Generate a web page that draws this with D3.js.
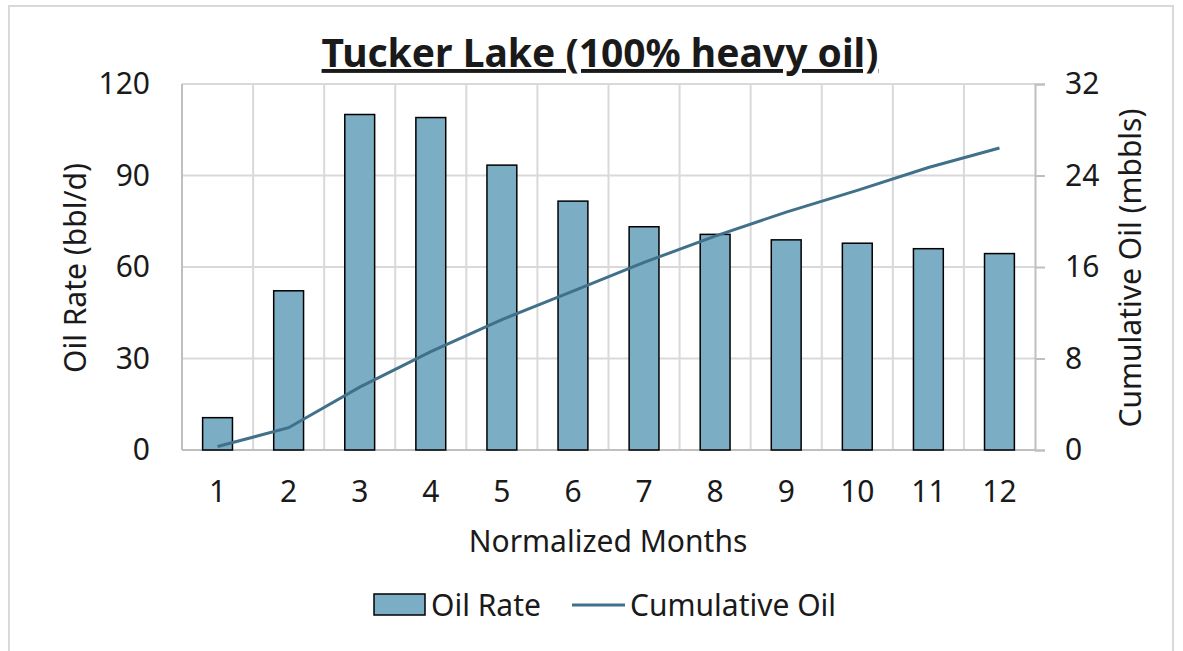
<!DOCTYPE html>
<html>
<head>
<meta charset="utf-8">
<script src="https://cdn.jsdelivr.net/npm/d3@7"></script>
<style>
  body { margin: 0; background: #fff; }
  text { font-family: "Noto Sans", Roboto, sans-serif; fill: #1a1a1a; }
</style>
</head>
<body>
<div id="container"></div>
<script>
// Data
var months = ["1", "2", "3", "4", "5", "6", "7", "8", "9", "10", "11", "12"];
var oilRate = [10.6, 52.2, 110, 109, 93.4, 81.6, 73.2, 70.7, 68.9, 67.8, 66.0, 64.4];   // bbl/d
var cumOil = [0.3, 1.95, 5.5, 8.6, 11.4, 13.9, 16.4, 18.7, 20.8, 22.7, 24.7, 26.4];      // mbbls
var leftTicks = [0, 30, 60, 90, 120];
var rightTicks = [0, 8, 16, 24, 32];

var W = 1183, H = 651;
var plot = { left: 182, right: 1035, top: 84, bottom: 450 };
var barColor = "#7badc4", lineColor = "#41718a", gridColor = "#d9d9d9", axisColor = "#bfbfbf";
var fs = "30px";

var svg = d3.select("#container").append("svg")
	.attr("width", W)
	.attr("height", H);

// outer frame
svg.append("rect")
	.attr("x", 9).attr("y", 6)
	.attr("width", 1164).attr("height", 700)
	.attr("fill", "none")
	.attr("stroke", gridColor)
	.attr("stroke-width", 2);

var x = d3.scaleBand().domain(months).range([plot.left, plot.right]).paddingInner(0).paddingOuter(0);
var yL = d3.scaleLinear().domain([0, 120]).range([plot.bottom, plot.top]);
var yR = d3.scaleLinear().domain([0, 32]).range([plot.bottom, plot.top]);

// Gridlines
svg.append("g").selectAll("line.h")
	.data(leftTicks.slice(1))
	.enter().append("line")
	.attr("x1", plot.left).attr("x2", plot.right)
	.attr("y1", function(d) { return yL(d); })
	.attr("y2", function(d) { return yL(d); })
	.attr("stroke", gridColor).attr("stroke-width", 2);

svg.append("g").selectAll("line.v")
	.data(months.slice(1))
	.enter().append("line")
	.attr("x1", function(d) { return x(d); })
	.attr("x2", function(d) { return x(d); })
	.attr("y1", plot.top).attr("y2", plot.bottom)
	.attr("stroke", gridColor).attr("stroke-width", 2);

// Axis lines
svg.append("line")
	.attr("x1", plot.left).attr("x2", plot.left)
	.attr("y1", plot.top).attr("y2", plot.bottom)
	.attr("stroke", axisColor).attr("stroke-width", 2);
svg.append("line")
	.attr("x1", plot.left).attr("x2", plot.right)
	.attr("y1", plot.bottom).attr("y2", plot.bottom)
	.attr("stroke", axisColor).attr("stroke-width", 2);

// Bars
var bw = x.bandwidth() * 0.42;
svg.append("g").selectAll("rect.bar")
	.data(oilRate)
	.enter().append("rect")
	.attr("x", function(d, i) { return x(months[i]) + x.bandwidth() / 2 - bw / 2; })
	.attr("y", function(d) { return yL(d); })
	.attr("width", bw)
	.attr("height", function(d) { return yL(0) - yL(d); })
	.attr("fill", barColor)
	.attr("stroke", "#000")
	.attr("stroke-width", 1.5);

// Cumulative line
var line = d3.line()
	.x(function(d, i) { return x(months[i]) + x.bandwidth() / 2; })
	.y(function(d) { return yR(d); });
svg.append("path")
	.datum(cumOil)
	.attr("d", line)
	.attr("fill", "none")
	.attr("stroke", lineColor)
	.attr("stroke-width", 3);

// Right axis (outward ticks)
var rAxis = svg.append("g").attr("transform", "translate(" + plot.right + ",0)")
	.call(d3.axisRight(yR).tickValues(rightTicks).tickSize(10).tickPadding(20));
rAxis.select(".domain").attr("stroke", axisColor).attr("stroke-width", 2);
rAxis.selectAll(".tick line").attr("stroke", axisColor).attr("stroke-width", 2);
rAxis.selectAll(".tick text").style("font-size", fs).style("font-family", "Noto Sans").attr("fill", "#1a1a1a");

// Left tick labels
var lAxis = svg.append("g").attr("transform", "translate(" + plot.left + ",0)")
	.call(d3.axisLeft(yL).tickValues(leftTicks).tickSize(0).tickPadding(32));
lAxis.select(".domain").remove();
lAxis.selectAll(".tick text").style("font-size", fs).style("font-family", "Noto Sans").attr("fill", "#1a1a1a");

// Bottom tick labels
var bAxis = svg.append("g").attr("transform", "translate(0," + plot.bottom + ")")
	.call(d3.axisBottom(x).tickSize(0).tickPadding(31));
bAxis.select(".domain").remove();
bAxis.selectAll(".tick text").style("font-size", fs).style("font-family", "Noto Sans").attr("fill", "#1a1a1a");

// Titles
svg.append("text")
	.attr("x", 600).attr("y", 67)
	.attr("text-anchor", "middle")
	.style("font-size", "39px").style("font-weight", "bold")
	.style("text-decoration", "underline")
	.text("Tucker Lake (100% heavy oil)");

svg.append("text")
	.attr("x", 608).attr("y", 552)
	.attr("text-anchor", "middle")
	.style("font-size", fs)
	.text("Normalized Months");

svg.append("text")
	.attr("transform", "translate(86,268) rotate(-90)")
	.attr("text-anchor", "middle")
	.style("font-size", fs)
	.text("Oil Rate (bbl/d)");

svg.append("text")
	.attr("transform", "translate(1141,268) rotate(-90)")
	.attr("text-anchor", "middle")
	.style("font-size", fs)
	.text("Cumulative Oil (mbbls)");

// Legend
var legend = svg.append("g");
legend.append("rect")
	.attr("x", 374).attr("y", 594).attr("width", 51).attr("height", 21)
	.attr("fill", barColor).attr("stroke", "#000").attr("stroke-width", 1.5);
legend.append("text")
	.attr("x", 431).attr("y", 616)
	.style("font-size", fs)
	.text("Oil Rate");
legend.append("line")
	.attr("x1", 572).attr("x2", 625).attr("y1", 605).attr("y2", 605)
	.attr("stroke", lineColor).attr("stroke-width", 3);
legend.append("text")
	.attr("x", 630).attr("y", 616)
	.style("font-size", fs)
	.text("Cumulative Oil");
</script>
</body>
</html>
